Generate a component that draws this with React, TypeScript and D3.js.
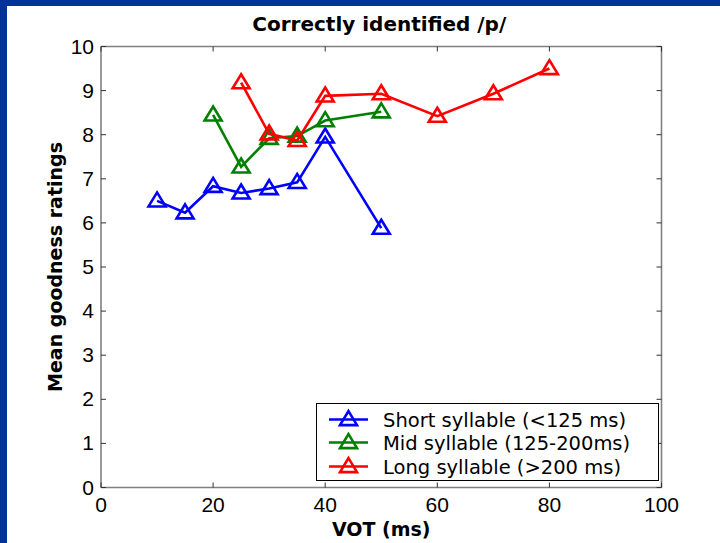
import * as d3 from "d3"
import React from "react"

// VOT values (ms) and mean goodness ratings per syllable length
const shortVot = [10, 15, 20, 25, 30, 35, 40, 50]
const shortRating = [6.5, 6.23, 6.83, 6.68, 6.78, 6.92, 7.95, 5.88]
const midVot = [20, 25, 30, 35, 40, 50]
const midRating = [8.45, 7.27, 7.92, 7.97, 8.32, 8.52]
const longVot = [25, 30, 35, 40, 50, 60, 70, 80]
const longRating = [9.18, 8.02, 7.87, 8.88, 8.93, 8.42, 8.93, 9.5]

const seriesNames = ["Short syllable (<125 ms)", "Mid syllable (125-200ms)", "Long syllable (>200 ms)"]
const seriesColors = ["#0000ff", "#008000", "#ff0000"]
const xTickVals = [0, 20, 40, 60, 80, 100]
const yTickVals = [0, 1, 2, 3, 4, 5, 6, 7, 8, 9, 10]

const font = "'Liberation Sans', Arial, sans-serif"
const wide = "'DejaVu Sans', sans-serif"

const Tri = ({ x, y, color }: { x: number; y: number; color: string }) => {
  const w = 8.5
  const h = 14
  const p = `M${x},${y - h * 0.6} L${x + w},${y + h * 0.4} L${x - w},${y + h * 0.4} Z`
  return <path d={p} fill="none" stroke={color} strokeWidth={2.6} strokeLinejoin="miter" />
}

export default function App() {
  const W = 720
  const H = 543
  const xOff = 101
  const xEnd = 661.5
  const yTop = 46.5
  const yBot = 487.5
  const xScale = d3.scaleLinear().domain([0, 100]).range([xOff, xEnd])
  const yScale = d3.scaleLinear().domain([0, 10]).range([yBot, yTop])
  const series = [
    { xs: shortVot, ys: shortRating },
    { xs: midVot, ys: midRating },
    { xs: longVot, ys: longRating },
  ]
  const line = d3.line<[number, number]>().x(d => xScale(d[0])).y(d => yScale(d[1]))
  const tick = 5

  const legX = 316.5
  const legY = 403.5
  const legW = 342
  const legH = 77
  const legRows = [419.5, 442.5, 466.5]

  return (
    <div style={{ position: "absolute", left: 0, top: 0 }}>
      <svg width={W} height={H} style={{ display: "block" }}>
        <rect x={0} y={0} width={W} height={H} fill="#003399" />
        <rect x={7} y={6} width={W - 7} height={H - 6} fill="#ffffff" />

        {/* axes box */}
        <line x1={xOff} y1={yBot} x2={xEnd} y2={yBot} stroke="#808080" strokeWidth={1.6} />
        <line x1={xOff} y1={yTop} x2={xOff} y2={yBot} stroke="#808080" strokeWidth={1.6} />
        <line x1={xOff} y1={yTop} x2={xEnd} y2={yTop} stroke="#808080" strokeWidth={1.6} />
        <line x1={xEnd} y1={yTop} x2={xEnd} y2={yBot} stroke="#808080" strokeWidth={1.6} />

        {xTickVals.map(v => {
          const x = xScale(v)
          return (
            <g key={"x" + v}>
              <line x1={x} y1={yBot} x2={x} y2={yBot - tick} stroke="#333" strokeWidth={1} />
              <line x1={x} y1={yTop} x2={x} y2={yTop + tick} stroke="#333" strokeWidth={1} />
              <text x={x} y={512} textAnchor="middle" fontFamily={font} fontSize={21} fill="#000">{v}</text>
            </g>
          )
        })}
        {yTickVals.map(v => {
          const y = yScale(v)
          return (
            <g key={"y" + v}>
              <line x1={xOff} y1={y} x2={xOff + tick} y2={y} stroke="#333" strokeWidth={1} />
              <line x1={xEnd} y1={y} x2={xEnd - tick} y2={y} stroke="#333" strokeWidth={1} />
              <text x={94} y={y + 7} textAnchor="end" fontFamily={font} fontSize={21} fill="#000">{v}</text>
            </g>
          )
        })}

        {series.map((s, i) => {
          const pts = s.xs.map((x, j) => [x, s.ys[j]] as [number, number])
          return (
            <g key={"s" + i}>
              <path d={line(pts) || ""} fill="none" stroke={seriesColors[i]} strokeWidth={2.6} />
              {pts.map((p, j) => (
                <Tri key={j} x={xScale(p[0])} y={yScale(p[1])} color={seriesColors[i]} />
              ))}
            </g>
          )
        })}

        {/* legend */}
        <rect x={legX} y={legY} width={legW} height={legH} fill="#ffffff" stroke="#000" strokeWidth={1} />
        {seriesNames.map((name, i) => (
          <g key={"l" + i}>
            <line x1={329} y1={legRows[i]} x2={368} y2={legRows[i]} stroke={seriesColors[i]} strokeWidth={2.6} />
            <Tri x={348.5} y={legRows[i]} color={seriesColors[i]} />
            <text x={383} y={legRows[i] + 7} fontFamily={wide} fontSize={19.5} fill="#000">{name}</text>
          </g>
        ))}

        <text x={(xOff + xEnd) / 2 - 2} y={31} textAnchor="middle" fontFamily={wide} fontSize={20} fontWeight="bold" fill="#000">
          Correctly identified /p/
        </text>
        <text x={(xOff + xEnd) / 2} y={536} textAnchor="middle" fontFamily={wide} fontSize={19} fontWeight="bold" fill="#000">
          VOT (ms)
        </text>
        <text
          transform={`translate(62,${(yTop + yBot) / 2}) rotate(-90)`}
          textAnchor="middle"
          fontFamily={wide}
          fontSize={19}
          fontWeight="bold"
          fill="#000"
        >
          Mean goodness ratings
        </text>
      </svg>
    </div>
  )
}
